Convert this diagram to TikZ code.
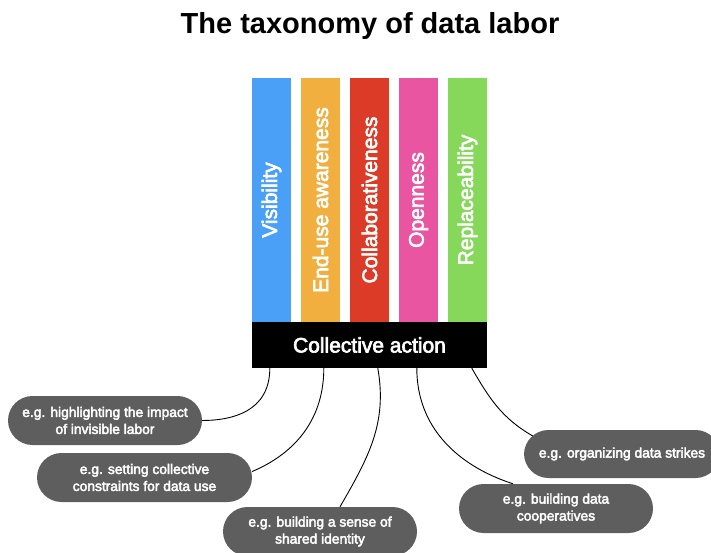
\documentclass[tikz,border=0pt]{standalone}
\usepackage{fontspec}
\setmainfont{Liberation Sans}
\newfontfamily\medfont[FakeBold=3]{Liberation Sans}
\definecolor{visblue}{RGB}{74,159,247}
\definecolor{endorange}{RGB}{241,175,63}
\definecolor{collred}{RGB}{219,59,39}
\definecolor{openpink}{RGB}{233,85,160}
\definecolor{replgreen}{RGB}{134,216,91}
\definecolor{bubblegray}{RGB}{94,94,94}
\begin{document}
\begin{tikzpicture}[x=1pt,y=1pt,
  bar/.style={rotate=90, minimum width=244pt, minimum height=39pt, inner sep=0pt,
    text=white, font=\medfont\fontsize{21}{25}\selectfont},
  bubble/.style={fill=bubblegray, rounded corners=24.5pt, minimum height=49pt,
    inner sep=0pt, text=white, align=center, font=\medfont\fontsize{13.8}{17}\selectfont},
  link/.style={draw=black, line width=0.9pt}]
\useasboundingbox (0,0) rectangle (711,552);
\clip (0,0) rectangle (711,552);

% title
\node[anchor=base, font=\fontsize{29}{34}\selectfont\bfseries] (title) at (370,518)
  {The taxonomy of data labor};

% the five dimensions
\node[bar, fill=visblue]   (vis)  at (271.5,352) {Visibility};
\node[bar, fill=endorange] (end)  at (320.5,352) {End-use awareness};
\node[bar, fill=collred]   (coll) at (369.5,352) {Collaborativeness};
\node[bar, fill=openpink]  (open) at (418.5,352) {Openness};
\node[bar, fill=replgreen] (repl) at (467.5,352) {Replaceability};

% base block
\node[fill=black, text=white, minimum width=235pt, minimum height=46pt, inner sep=0pt,
  font=\medfont\fontsize{21}{25}\selectfont] (action) at (369.5,207) {Collective action};

% examples
\node[bubble, minimum width=194pt] (b1) at (105,131.5)
  {e.g. highlighting the impact\\of invisible labor};
\node[bubble, minimum width=215pt] (b2) at (144.5,74.5)
  {e.g. setting collective\\constraints for data use};
\node[bubble, minimum width=194pt] (b3) at (320,20.5)
  {e.g. building a sense of\\shared identity};
\node[bubble, minimum width=196pt, minimum height=48pt] (b4) at (622,98)
  {e.g. organizing data strikes};
\node[bubble, minimum width=194pt] (b5) at (556,43.5)
  {e.g. building data\\cooperatives};

% connector roots along the base block
\coordinate (s1) at ([xshift=18pt]action.south west);
\coordinate (s2) at ([xshift=72pt]action.south west);
\coordinate (s3) at ([xshift=126pt]action.south west);
\coordinate (s4) at ([xshift=165pt]action.south west);
\coordinate (s5) at ([xshift=220pt]action.south west);

\draw[link] (s1) to[out=-90, in=0, out looseness=1.3, in looseness=0.9] (b1.east);
\draw[link] (s2) to[out=-90, in=23] ([yshift=6pt]b2.east);
\draw[link] (s3) to[out=-80, in=60] ([xshift=20pt]b3.north);
\draw[link] (s4) to[out=-90, in=162] ([xshift=-43pt]b5.north);
\draw[link] (s5) to[out=-60, in=150] ([xshift=9pt,yshift=18pt]b4.west);
\end{tikzpicture}
\end{document}
